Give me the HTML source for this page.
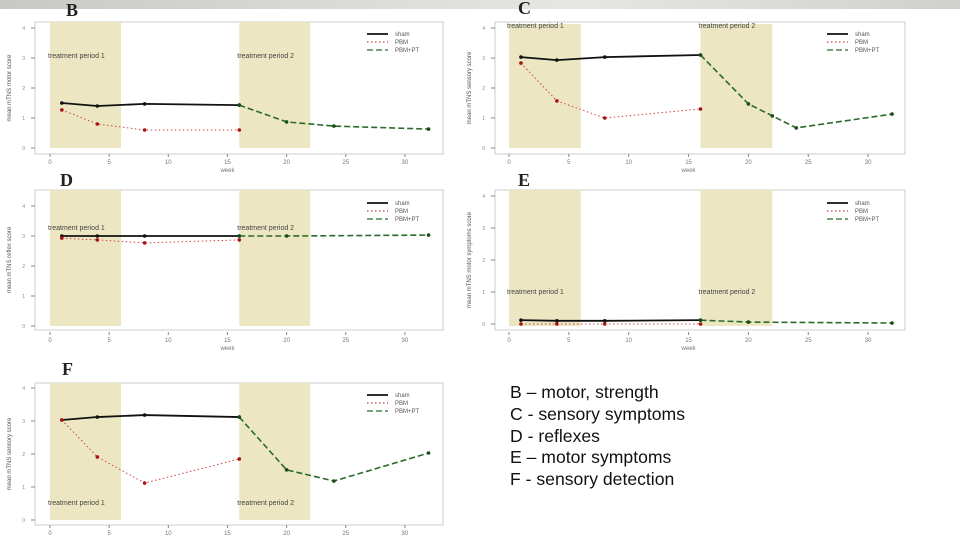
<!DOCTYPE html>
<html><head><meta charset="utf-8"><style>
body{margin:0;width:960px;height:540px;overflow:hidden;background:#fff;font-family:"Liberation Sans",sans-serif}
#topbar{position:absolute;left:0;top:0;width:960px;height:9px;background:linear-gradient(90deg,#c8c8c4,#e6e6e2 60%,#d0d0cc)}
#caption{position:absolute;left:510px;top:382px;font-size:17.6px;line-height:21.8px;color:#111}
svg{position:absolute;left:0;top:0}
</style></head><body>
<div id="topbar"></div>
<svg id="chart" width="960" height="540"></svg>
<div id="caption">B – motor, strength<br>C - sensory symptoms<br>D - reflexes<br>E – motor symptoms<br>F - sensory detection</div>
<script>
const weekTicks=[0,5,10,15,20,25,30];
const bWeeks=[1,4,8,16], bSham=[1.5,1.4,1.47,1.43], bPbm=[1.27,0.8,0.6,0.6];
const bPtWeeks=[16,20,24,32], bPt=[1.43,0.87,0.73,0.63];
const cWeeks=[1,4,8,16], cSham=[3.03,2.93,3.03,3.1], cPbm=[2.83,1.57,1.0,1.3];
const cPtWeeks=[16,20,22,24,32], cPt=[3.1,1.47,1.07,0.67,1.13];
const dWeeks=[1,4,8,16], dSham=[3.0,3.0,3.0,3.0], dPbm=[2.93,2.87,2.77,2.87];
const dPtWeeks=[16,20,32], dPt=[3.0,3.0,3.03];
const eWeeks=[1,4,8,16], eSham=[0.12,0.1,0.1,0.12], ePbm=[0.0,0.0,0.0,0.0];
const ePtWeeks=[16,20,32], ePt=[0.12,0.06,0.03];
const fWeeks=[1,4,8,16], fSham=[3.03,3.12,3.18,3.12], fPbm=[3.03,1.91,1.12,1.85];
const fPtWeeks=[16,20,24,32], fPt=[3.12,1.52,1.18,2.03];
const legendLabels=["sham","PBM","PBM+PT"];

const svg=document.getElementById('chart');const NS='http://www.w3.org/2000/svg';
function mk(tag,attrs,parent,text){const e=document.createElementNS(NS,tag);for(const k in attrs)e.setAttribute(k,attrs[k]);if(text!=null)e.textContent=text;(parent||svg).appendChild(e);return e;}
function panel(cfg){
  const g=mk('g',{});
  
  
  const xs=w=>cfg.x0+w*cfg.ppw, ys=v=>cfg.base-v*cfg.ppv;
  const r=mk('rect',{x:cfg.fx,y:cfg.fy,width:cfg.fw,height:cfg.fh,fill:'#fff',stroke:'#ccc','stroke-width':1},g);
  
  [[0,6],[16,22]].forEach((p,i)=>{const s=mk('rect',{x:xs(p[0]),y:cfg.sy,width:xs(p[1])-xs(p[0]),height:cfg.sh,fill:'#ece7c2'},g);
    
    const t=mk('text',{x:xs(p[0])-2,y:cfg.ty[i],'font-size':7,fill:'#444'},g,'treatment period '+(i+1));
    });
  weekTicks.forEach(w=>{mk('line',{x1:xs(w),x2:xs(w),y1:cfg.ay,y2:cfg.ay+3,stroke:'#888'},g);
    const t=mk('text',{x:xs(w),y:cfg.ay+10,'font-size':6,fill:'#777','text-anchor':'middle'},g,w);
    });
  for(let v=0;v<=cfg.nt;v++){mk('line',{x1:cfg.fx-4,x2:cfg.fx,y1:ys(v),y2:ys(v),stroke:'#888'},g);
    const t=mk('text',{x:cfg.fx-10,y:ys(v)+2,'font-size':5,fill:'#888','text-anchor':'end'},g,v);
    }
  const yt=mk('text',{x:0,y:0,'font-size':6,fill:'#555','text-anchor':'middle',transform:`translate(${cfg.fx-24},${cfg.fy+cfg.fh/2}) rotate(-90)`},g,cfg.ytitle);
  
  if(cfg.xt){const xt=mk('text',{x:xs(15),y:cfg.ay+18,'font-size':6,fill:'#777','text-anchor':'middle'},g,'week');}
  const L=mk('text',{x:cfg.lx,y:cfg.ly,'font-size':18,'font-weight':'bold','font-family':'Liberation Serif',fill:'#222'},g,cfg.id);
  
  const series=[[cfg.w,cfg.sham,'#111',1.8,'',''],[cfg.w,cfg.pbm,'#c44','1','1.5 2.5','#a11'],[cfg.pw,cfg.pt,'#2a6a2a',1.6,'6 3','#1a4a1a']];
  series.forEach((s,i)=>{const pts=s[0].map((w,j)=>xs(w)+','+ys(s[1][j])).join(' ');
    const pl=mk('polyline',{points:pts,fill:'none',stroke:s[2],'stroke-width':s[3],'stroke-dasharray':s[4]},g);
    
    s[0].forEach((w,j)=>{const c=mk('circle',{cx:xs(w),cy:ys(s[1][j]),r:1.8,fill:s[5]||s[2]},g);
      });});
  legendLabels.forEach((lab,i)=>{const y=cfg.gy+i*8;
    mk('line',{x1:cfg.gx,x2:cfg.gx+21,y1:y,y2:y,stroke:series[i][2],'stroke-width':i==0?1.8:1.2,'stroke-dasharray':series[i][4]},g);
    const t=mk('text',{x:cfg.gx+28,y:y+2,'font-size':6,fill:'#555'},g,lab);
    });
}
panel({id:'B',fx:35,fy:22,fw:408,fh:132,x0:50,ppw:11.83,base:148,ppv:30,nt:4,sy:22,sh:126,ty:[58,58],ay:154,xt:1,lx:66,ly:16,gx:367,gy:34,w:bWeeks,sham:bSham,pbm:bPbm,pw:bPtWeeks,pt:bPt,ytitle:'mean mTNS motor score'});
panel({id:'C',fx:495,fy:22,fw:410,fh:132,x0:509,ppw:11.97,base:148,ppv:30,nt:4,sy:24,sh:124,ty:[28,28],ay:154,xt:1,lx:518,ly:14,gx:827,gy:34,w:cWeeks,sham:cSham,pbm:cPbm,pw:cPtWeeks,pt:cPt,ytitle:'mean mTNS sensory score'});
panel({id:'D',fx:35,fy:190,fw:408,fh:140,x0:50,ppw:11.83,base:326,ppv:30,nt:4,sy:190,sh:136,ty:[230,230],ay:332,xt:1,lx:60,ly:186,gx:367,gy:203,w:dWeeks,sham:dSham,pbm:dPbm,pw:dPtWeeks,pt:dPt,ytitle:'mean mTNS reflex score'});
panel({id:'E',fx:495,fy:190,fw:410,fh:140,x0:509,ppw:11.97,base:324,ppv:32,nt:4,sy:190,sh:136,ty:[294,294],ay:332,xt:1,lx:518,ly:186,gx:827,gy:203,w:eWeeks,sham:eSham,pbm:ePbm,pw:ePtWeeks,pt:ePt,ytitle:'mean mTNS motor symptoms score'});
panel({id:'F',fx:35,fy:383,fw:408,fh:142,x0:50,ppw:11.83,base:520,ppv:33,nt:4,sy:383,sh:137,ty:[505,505],ay:525,xt:0,lx:62,ly:375,gx:367,gy:395,w:fWeeks,sham:fSham,pbm:fPbm,pw:fPtWeeks,pt:fPt,ytitle:'mean mTNS sensory score'});
</script>
</body></html>
